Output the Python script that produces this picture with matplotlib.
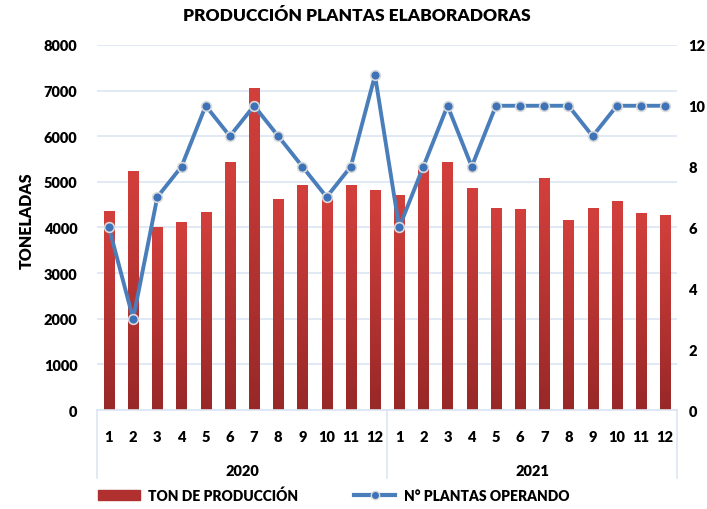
import matplotlib
matplotlib.use("Agg")
import matplotlib.pyplot as plt
import numpy as np
from matplotlib.lines import Line2D
from matplotlib.patches import Rectangle
from matplotlib.colors import LinearSegmentedColormap

plt.rcParams['font.family'] = ['Lato', 'DejaVu Sans']

years = ["2020", "2021"]
months = ["1", "2", "3", "4", "5", "6", "7", "8", "9", "10", "11", "12"]
ton_2020 = [4370, 5240, 4015, 4125, 4350, 5440, 7060, 4630, 4935, 4650, 4935, 4825]
ton_2021 = [4715, 5280, 5440, 4855, 4430, 4410, 5075, 4155, 4430, 4570, 4320, 4265]
plantas_2020 = [6, 3, 7, 8, 10, 9, 10, 9, 8, 7, 8, 11]
plantas_2021 = [6, 8, 10, 8, 10, 10, 10, 10, 9, 10, 10, 10]

title = "PRODUCCIÓN PLANTAS ELABORADORAS"
ylabel = "TONELADAS"
legend_bar = "TON DE PRODUCCIÓN"
legend_line = "N° PLANTAS OPERANDO"

ton = ton_2020 + ton_2021
plantas = plantas_2020 + plantas_2021
labels = months + months
n = len(ton)
x = np.arange(n)

W = 'heavy'

fig = plt.figure(figsize=(7.07, 5.10), dpi=100)
ax = fig.add_axes([0.137, 0.194, 0.821, 0.716])
ax2 = ax.twinx()

grid_col = "#dce6f2"
ax.set_ylim(0, 8000)
ax.set_yticks(np.arange(0, 8001, 1000))
ax.grid(axis='y', color=grid_col, linewidth=1.2)
ax.set_axisbelow(True)

bw = 0.42
grad = np.linspace(0, 1, 256).reshape(-1, 1)
cmap = LinearSegmentedColormap.from_list("rg", ["#982828", "#d3403c"])
bars = ax.bar(x, ton, width=bw, color="#c0392b", edgecolor="none", zorder=2)
for b in bars:
    bx, by = b.get_x(), b.get_y()
    w, h = b.get_width(), b.get_height()
    im = ax.imshow(grad, extent=[bx, bx + w, by, by + h], origin='lower',
                   cmap=cmap, aspect='auto', zorder=2.1)
    im.set_clip_path(b)
ax.set_xlim(-0.5, n - 0.5)
ax.set_ylim(0, 8000)

ax2.set_ylim(0, 12)
ax2.set_yticks(np.arange(0, 13, 2))
line_col = "#4a7ebb"
ax2.plot(x, plantas, color=line_col, linewidth=2.8, marker='o', markersize=7,
         markerfacecolor="#3d72b8", markeredgecolor="#d9d9d9", markeredgewidth=1.2,
         zorder=3)

for a in (ax, ax2):
    for s in a.spines.values():
        s.set_visible(False)
ax.spines['bottom'].set_visible(True)
ax.spines['bottom'].set_color(grid_col)
ax.spines['bottom'].set_linewidth(1.2)

ax.tick_params(axis='y', length=0, pad=14)
ax2.tick_params(axis='y', length=0, pad=8)
for t in ax.get_yticklabels() + ax2.get_yticklabels():
    t.set_fontsize(10.5); t.set_fontweight(W)

ax.set_xticks(x)
ax.set_xticklabels(labels, fontsize=10.5, fontweight=W)
ax.tick_params(axis='x', length=0, pad=14)

trans = ax.get_xaxis_transform()
for i, yr in enumerate(years):
    ax.text(i * 12 + 5.5, -0.165, yr, transform=trans, ha='center', va='center',
            fontsize=10.5, fontweight=W)
for xs in [-0.5, 11.5, 23.5]:
    ax.plot([xs, xs], [0, -0.185], transform=trans, color=grid_col,
            linewidth=1.2, clip_on=False)

ax.set_ylabel(ylabel, fontsize=11.5, fontweight=W)
ax.yaxis.set_label_coords(-0.107, 0.52)

fig.text(0.505, 0.968, title, ha='center', va='center', fontsize=12.5, fontweight=W)

handles = [Rectangle((0, 0), 1, 1, color="#b03030"),
           Line2D([0], [0], color=line_col, linewidth=3, marker='o', markersize=6,
                  markerfacecolor="#3d72b8", markeredgecolor="#d9d9d9")]
fig.legend(handles, [legend_bar, legend_line], loc='center', ncol=2,
           bbox_to_anchor=(0.472, 0.028), frameon=False,
           prop=dict(size=10, weight=W), columnspacing=4.0, handlelength=3,
           handletextpad=0.6)

fig.savefig("out.png", dpi=100)
